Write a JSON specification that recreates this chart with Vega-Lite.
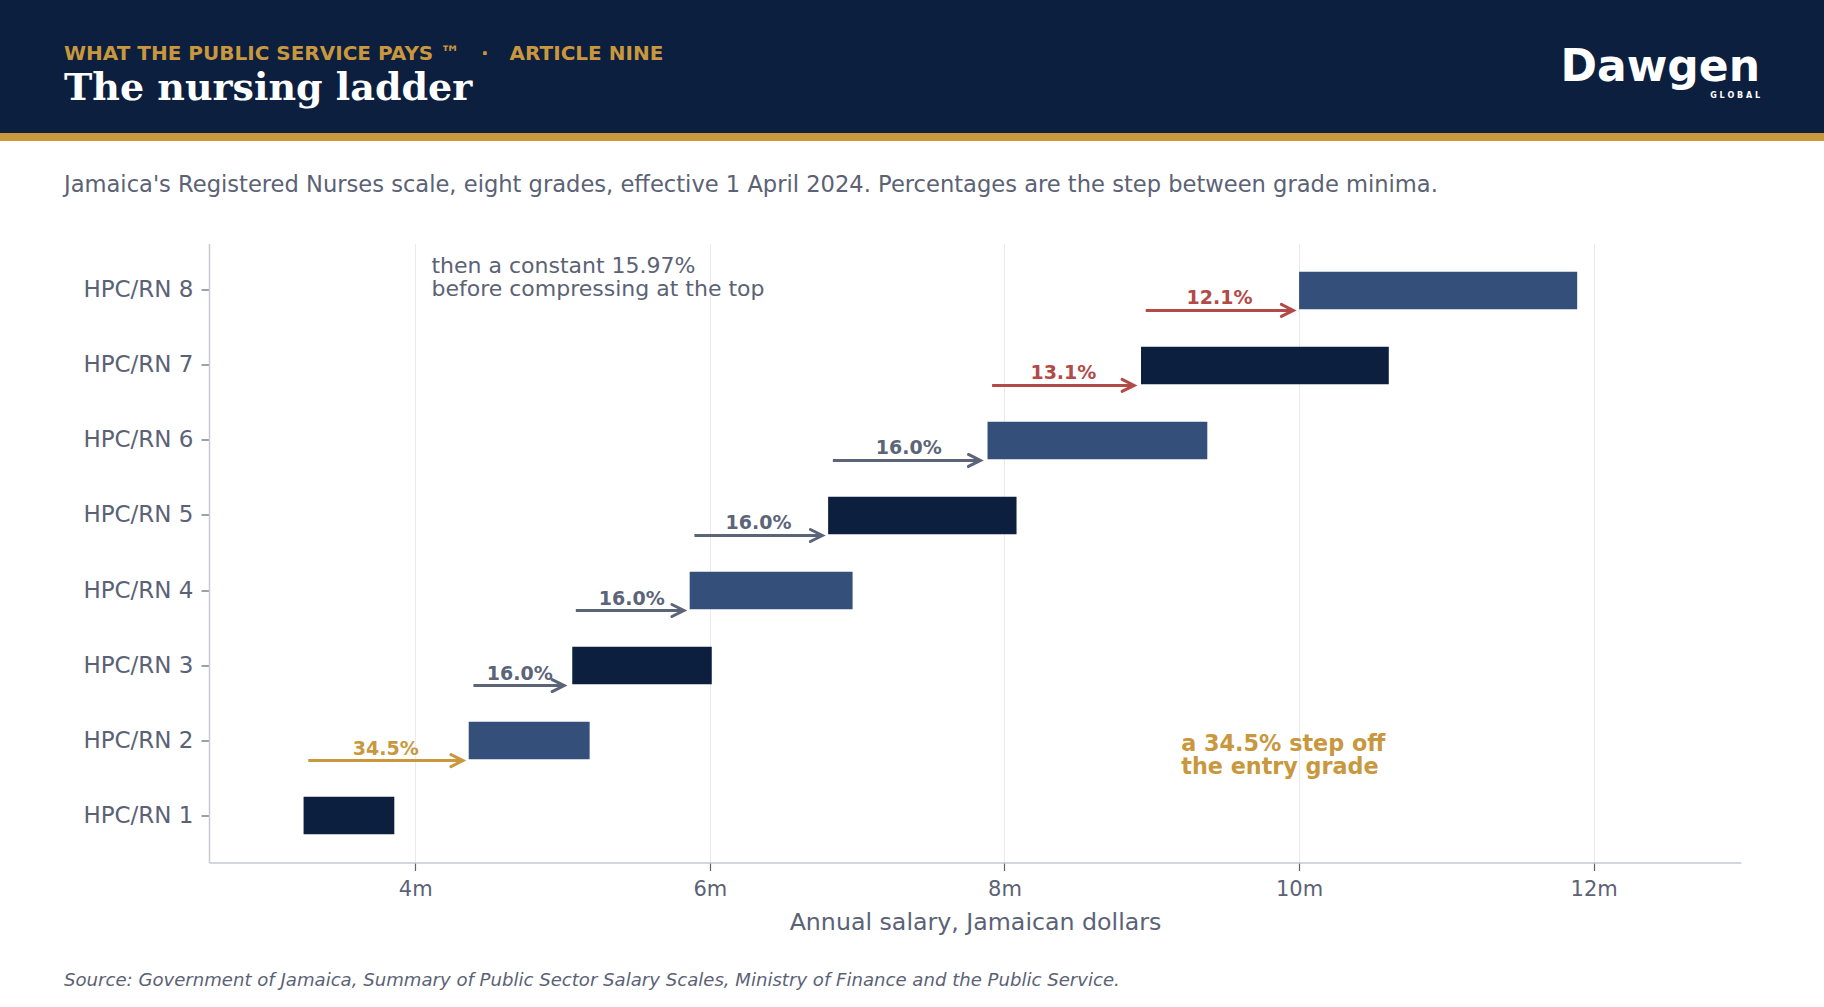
{
  "$schema": "https://vega.github.io/schema/vega-lite/v6.json",
  "padding": 0,
  "background": "#ffffff",
  "spacing": 46.5,
  "config": {
    "font": "DejaVu Sans",
    "view": {"stroke": null}
  },
  "datasets": {
    "grades": [
      {"grade": "HPC/RN 1", "min": 3.242, "max": 3.858},
      {"grade": "HPC/RN 2", "min": 4.363, "max": 5.184, "step": "34.5%", "kind": "entry", "from": 3.274, "to": 4.324, "label_at": 3.80},
      {"grade": "HPC/RN 3", "min": 5.066, "max": 6.013, "step": "16.0%", "kind": "constant", "from": 4.395, "to": 5.011, "label_at": 4.71},
      {"grade": "HPC/RN 4", "min": 5.863, "max": 6.969, "step": "16.0%", "kind": "constant", "from": 5.09, "to": 5.824, "label_at": 5.47},
      {"grade": "HPC/RN 5", "min": 6.803, "max": 8.082, "step": "16.0%", "kind": "constant", "from": 5.895, "to": 6.764, "label_at": 6.33},
      {"grade": "HPC/RN 6", "min": 7.885, "max": 9.377, "step": "16.0%", "kind": "constant", "from": 6.835, "to": 7.837, "label_at": 7.35},
      {"grade": "HPC/RN 7", "min": 8.927, "max": 10.609, "step": "13.1%", "kind": "compress", "from": 7.916, "to": 8.88, "label_at": 8.40},
      {"grade": "HPC/RN 8", "min": 10.0, "max": 11.888, "step": "12.1%", "kind": "compress", "from": 8.959, "to": 9.961, "label_at": 9.46}
    ]
  },
  "vconcat": [
    {
      "spacing": 0,
      "vconcat": [
        {
          "spacing": 0,
          "hconcat": [
            {
              "width": 1500,
              "height": 133,
              "view": {"fill": "#0c1f3e", "stroke": null},
              "data": {"values": []},
              "mark": {"type": "text"},
              "title": {
                "text": "WHAT THE PUBLIC SERVICE PAYS ™\u00a0\u00a0\u00a0·\u00a0\u00a0\u00a0ARTICLE NINE",
                "subtitle": "The nursing ladder",
                "orient": "top",
                "anchor": "start",
                "frame": "group",
                "offset": -108,
                "dx": 64,
                "font": "DejaVu Sans",
                "fontSize": 20,
                "fontWeight": "bold",
                "color": "#c9973d",
                "subtitleFont": "DejaVu Serif",
                "subtitleFontSize": 38,
                "subtitleFontWeight": "bold",
                "subtitleColor": "#ffffff",
                "subtitlePadding": 6
              }
            },
            {
              "width": 324,
              "height": 133,
              "view": {"fill": "#0c1f3e", "stroke": null},
              "data": {"values": []},
              "mark": {"type": "text"},
              "title": {
                "text": "Dawgen",
                "subtitle": "G L O B A L",
                "orient": "top",
                "anchor": "end",
                "frame": "group",
                "offset": -100,
                "dx": -64,
                "font": "DejaVu Sans",
                "fontSize": 44,
                "fontWeight": "bold",
                "color": "#ffffff",
                "subtitleFont": "DejaVu Sans",
                "subtitleFontSize": 8,
                "subtitleFontWeight": "bold",
                "subtitleColor": "#ffffff",
                "subtitlePadding": 2
              }
            }
          ]
        },
        {
          "width": 1824,
          "height": 8,
          "view": {"fill": "#c9973d", "stroke": null},
          "data": {"values": []},
          "mark": {"type": "text"},
          "title": {
            "text": "Jamaica's Registered Nurses scale, eight grades, effective 1 April 2024. Percentages are the step between grade minima.",
            "orient": "bottom",
            "anchor": "start",
            "frame": "group",
            "offset": 33,
            "dx": 64,
            "font": "DejaVu Sans",
            "fontSize": 22.6,
            "fontWeight": "normal",
            "color": "#5b6275"
          }
        }
      ]
    },
    {
      "spacing": 0,
      "hconcat": [
        {
          "width": 64,
          "height": 1,
          "data": {"values": []},
          "mark": {"type": "text"}
        },
        {
          "width": 1532,
          "height": 619,
          "data": {"name": "grades"},
          "title": {
            "text": "Source: Government of Jamaica, Summary of Public Sector Salary Scales, Ministry of Finance and the Public Service.",
            "orient": "bottom",
            "anchor": "start",
            "frame": "group",
            "offset": 38,
            "dx": -145,
            "font": "DejaVu Sans",
            "fontSize": 18.1,
            "fontStyle": "italic",
            "fontWeight": "normal",
            "color": "#5b6275"
          },
          "encoding": {
            "y": {
              "field": "grade",
              "type": "nominal",
              "scale": {
                "domain": ["HPC/RN 8", "HPC/RN 7", "HPC/RN 6", "HPC/RN 5", "HPC/RN 4", "HPC/RN 3", "HPC/RN 2", "HPC/RN 1"],
                "paddingInner": 0.5,
                "paddingOuter": 0.375
              },
              "axis": {
                "title": null,
                "labelFontSize": 23,
                "labelColor": "#5b6275",
                "tickColor": "#5b6275",
                "tickSize": 8,
                "tickWidth": 1.2,
                "domainColor": "#c5c9d3",
                "domainWidth": 1.5,
                "labelPadding": 8,
                "grid": false
              }
            }
          },
          "layer": [
            {
              "mark": {"type": "bar"},
              "encoding": {
                "x": {
                  "field": "min",
                  "type": "quantitative",
                  "title": "Annual salary, Jamaican dollars",
                  "scale": {"domain": [2.6, 13.0], "nice": false, "zero": false},
                  "axis": {
                    "values": [4, 6, 8, 10, 12],
                    "labelExpr": "datum.value + 'm'",
                    "grid": true,
                    "gridColor": "#e9eaee",
                    "domainColor": "#c5c9d3",
                    "domainWidth": 1.5,
                    "tickColor": "#5b6275",
                    "tickSize": 8,
                    "tickWidth": 1.2,
                    "labelFontSize": 21,
                    "labelColor": "#5b6275",
                    "labelPadding": 8,
                    "titleFontSize": 23.7,
                    "titleColor": "#5b6275",
                    "titleFontWeight": "normal",
                    "titlePadding": 11
                  }
                },
                "x2": {"field": "max"},
                "fill": {
                  "field": "grade",
                  "type": "nominal",
                  "scale": {
                    "domain": ["HPC/RN 1", "HPC/RN 2", "HPC/RN 3", "HPC/RN 4", "HPC/RN 5", "HPC/RN 6", "HPC/RN 7", "HPC/RN 8"],
                    "range": ["#0c1f3e", "#34507a", "#0c1f3e", "#34507a", "#0c1f3e", "#34507a", "#0c1f3e", "#34507a"]
                  },
                  "legend": null
                }
              }
            },
            {
              "transform": [{"filter": "datum.step != null"}],
              "mark": {"type": "rule", "strokeWidth": 3, "yOffset": 20},
              "encoding": {
                "x": {"field": "from", "type": "quantitative", "title": "Annual salary, Jamaican dollars"},
                "x2": {"field": "to"},
                "stroke": {
                  "field": "kind",
                  "type": "nominal",
                  "scale": {"domain": ["entry", "constant", "compress"], "range": ["#c9973d", "#5b6478", "#b24a48"]},
                  "legend": null
                }
              }
            },
            {
              "transform": [{"filter": "datum.step != null"}],
              "mark": {
                "type": "point",
                "shape": "M-2,-1L0,0L-2,1",
                "size": 144,
                "filled": false,
                "opacity": 1,
                "strokeWidth": 3,
                "strokeCap": "round",
                "strokeJoin": "miter",
                "yOffset": 20
              },
              "encoding": {
                "x": {"field": "to", "type": "quantitative", "title": "Annual salary, Jamaican dollars"},
                "stroke": {"field": "kind", "type": "nominal", "legend": null}
              }
            },
            {
              "transform": [{"filter": "datum.step != null"}],
              "mark": {"type": "text", "fontSize": 19, "fontWeight": "bold", "baseline": "middle", "yOffset": 8},
              "encoding": {
                "x": {"field": "label_at", "type": "quantitative", "title": "Annual salary, Jamaican dollars"},
                "text": {"field": "step"},
                "color": {
                  "field": "kind",
                  "type": "nominal",
                  "scale": {"domain": ["entry", "constant", "compress"], "range": ["#c9973d", "#5b6478", "#b24a48"]},
                  "legend": null
                }
              }
            },
            {
              "data": {"values": [{"note": "then a constant 15.97%\nbefore compressing at the top", "at": 4.11, "grade": "HPC/RN 8"}]},
              "mark": {"type": "text", "align": "left", "baseline": "middle", "lineBreak": "\n", "lineHeight": 23, "fontSize": 22, "color": "#5b6275", "dy": -24},
              "encoding": {
                "x": {"field": "at", "type": "quantitative", "title": "Annual salary, Jamaican dollars"},
                "text": {"field": "note"}
              }
            },
            {
              "data": {"values": [{"note": "a 34.5% step off\nthe entry grade", "at": 9.2, "grade": "HPC/RN 2"}]},
              "mark": {"type": "text", "align": "left", "baseline": "middle", "lineBreak": "\n", "lineHeight": 23, "fontSize": 22.3, "fontWeight": "bold", "color": "#c9973d", "dy": 3.5},
              "encoding": {
                "x": {"field": "at", "type": "quantitative", "title": "Annual salary, Jamaican dollars"},
                "text": {"field": "note"}
              }
            }
          ]
        }
      ]
    }
  ]
}
